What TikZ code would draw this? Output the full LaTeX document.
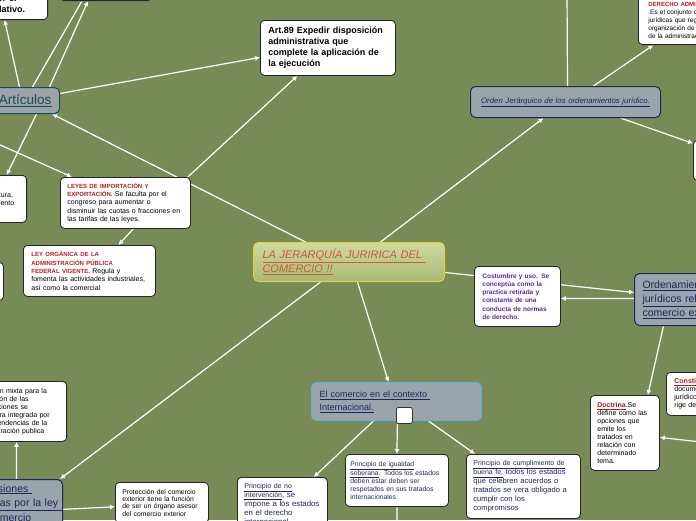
\documentclass[tikz,border=0pt]{standalone}
\usepackage{fontspec}
\setmainfont{Liberation Sans}
\usetikzlibrary{arrows.meta, shadows, backgrounds}

\definecolor{bgolive}{RGB}{120,139,86}
\definecolor{topicgray}{RGB}{155,164,170}
\definecolor{navytxt}{RGB}{28,40,96}
\definecolor{tealtxt}{RGB}{22,78,80}
\definecolor{redtxt}{RGB}{180,30,30}
\definecolor{purpletxt}{RGB}{100,40,150}
\definecolor{orangetxt}{RGB}{205,90,50}
\definecolor{yellowedge}{RGB}{230,212,40}
\definecolor{blueedge}{RGB}{90,180,220}

\newcommand{\setfs}[2]{\fontsize{#1}{#2}\selectfont}
\newcommand{\redcap}[1]{{\color{redtxt}\bfseries\fontsize{6}{8}\selectfont #1}}

\begin{document}
\begin{tikzpicture}[x=1pt, y=-1pt,
    card/.style={draw=black!85, fill=white, rounded corners=4pt, line width=0.8pt,
        align=left, anchor=north west, inner xsep=7pt, inner ysep=5pt,
        drop shadow={shadow xshift=0.8pt, shadow yshift=-1.2pt, opacity=0.45}},
    topic/.style={fill=topicgray, rounded corners=5pt, line width=1pt, align=left, anchor=north west,
        drop shadow={shadow xshift=0.8pt, shadow yshift=-1.2pt, opacity=0.35}},
    wire/.style={draw=white, line width=1.2pt},
    wirearr/.style={wire, -{Latex[length=5pt, width=5pt]}}]
    \useasboundingbox (0,0) rectangle (696,520);

    \node[card, anchor=south east, text width=62pt, font=\bfseries\setfs{9}{11}] (tlb) at (48,20) {es por el\\ legislativo.};
    \node[card, anchor=south, minimum width=92pt, minimum height=30pt] (topb) at (106,1) {};
    \node[topic, draw=tealtxt, anchor=north east, text width=64pt, inner xsep=8pt, align=right,
        minimum height=26pt, font=\setfs{13.5}{15}, text=tealtxt] (artic) at (60,87) {\underline{Artículos}};
    \node[card, text width=119pt, inner xsep=8pt, minimum height=55pt, font=\bfseries\setfs{9}{11}] (art89) at (260,20)
        {Art.89 Expedir disposición\\ administrativa que\\ complete la aplicación de\\ la ejecución};
    \node[card, anchor=north east, text width=49pt, minimum height=47pt, font=\setfs{7}{8}] (lb1) at (27,175) {la agricultura,\\ el crecimiento};
    \node[card, text width=116pt, minimum height=51pt, font=\setfs{7}{8.3}] (leyes) at (60,177)
        {\redcap{LEYES DE IMPORTACIÓN Y}\\ \redcap{EXPORTACIÓN.} Se faculta por el\\ congreso para aumentar o\\ disminuir las cuotas o fracciones en\\ las tarifas de las leyes.};
    \node[card, text width=116pt, inner xsep=8pt, minimum height=51pt, font=\setfs{7}{8.3}] (leyorg) at (23,245)
        {\redcap{LEY ORGÁNICA DE LA}\\ \redcap{ADMINISTRACIÓN PÚBLICA}\\ \redcap{FEDERAL VIGENTE.} Regula y\\ fomenta las actividades industriales,\\ así como la comercial};
    \node[card, minimum width=63pt, minimum height=38pt] (lb2) at (-60,262) {};

    \node[topic, draw=yellowedge, top color={rgb,255:red,208;green,218;blue,160}, bottom color={rgb,255:red,168;green,184;blue,118},
        text width=173pt, inner xsep=9pt, minimum height=39pt, font=\itshape\setfs{11}{14}, text=orangetxt] (central) at (253,242)
        {\underline{LA JERARQUÍA JURIRICA DEL }\\ \underline{COMERCIO !!}};

    \node[topic, draw=navytxt, text width=172pt, inner xsep=9pt, align=center, minimum height=31pt,
        font=\itshape\setfs{7.8}{9}, text=navytxt] (orden) at (470,86) {\underline{Orden Jerárquico de los ordenamientos jurídico.}};
    \node[card, anchor=south west, text width=102pt, inner xsep=10pt, inner ysep=6pt, font=\setfs{6.5}{8}] (dadmin) at (638,45)
        {\redcap{DERECHO ADMINISTRATIVO}\\ .Es el conjunto de normas\\ jurídicas que regulan la\\ organización de\\ de la administración};
    \node[card, minimum width=70pt, minimum height=40pt] (rbox) at (693,140) {};

    \node[card, text width=70pt, inner xsep=8pt, minimum height=60pt, font=\bfseries\setfs{6.5}{8.2}, text=purpletxt] (costumbre) at (474,266)
        {Costumbre y uso. Se\\ conceptúa como la\\ practica retirada y\\ constante de una\\ conducta de normas\\ de derecho.};
    \node[topic, draw=navytxt, text width=104pt, inner xsep=8pt, minimum height=52pt, font=\setfs{10.5}{14}, text=navytxt] (ordenam) at (634,273)
        {\underline{Ordenamientos}\\ \underline{jurídicos relativos al}\\ \underline{comercio exterior}};

    \node[topic, draw=blueedge, text width=154pt, inner xsep=8pt, minimum height=38pt, font=\setfs{9}{13}, text=navytxt] (comercio) at (311,382)
        {\underline{El comercio en el contexto }\\ \underline{Internacional.}};
    \node[draw=black!80, fill=white, rounded corners=2pt, line width=0.8pt, minimum size=16pt, inner sep=0pt, anchor=north west] (knob) at (396,407) {};

    \node[card, text width=76pt, inner ysep=6pt, font=\setfs{7.8}{9}, text=navytxt] (nointerv) at (237,477)
        {{\setfs{7}{9}\underline{Principio de no}}\\ {\setfs{7}{9}\underline{intervención}}, se\\ impone a los estados\\ en el derecho\\ internacional};
    \node[card, text width=93pt, inner xsep=5pt, minimum height=52pt, font=\setfs{6.8}{8}, text=navytxt] (igualdad) at (345,454)
        {\underline{Principio de igualdad}\\ \underline{soberana}. Todos los estados\\ deben estar deben ser\\ respetados en sus tratados\\ internacionales.};
    \node[card, text width=100pt, inner xsep=7pt, minimum height=64pt, font=\setfs{7.6}{9}, text=navytxt] (cumplim) at (466,454)
        {{\setfs{7}{9}\underline{Principio de cumplimiento de}}\\ {\setfs{7}{9}\underline{buena fe,}} todos los estados\\ que celebren acuerdos o\\ tratados se vera obligado a\\ cumplir con los\\ compromisos};

    \node[card, text width=55pt, minimum height=75pt, font=\setfs{7}{8}] (doctrina) at (590,395)
        {{\color{redtxt}\bfseries\underline{Doctrina}}.Se\\ define como las\\ opciones que\\ emite los\\ tratados en\\ relación con\\ determinado\\ tema.};
    \node[card, text width=84pt, inner xsep=8pt, minimum height=43pt, font=\setfs{7}{8}] (constit) at (666,372)
        {{\color{redtxt}\bfseries\underline{Constitución}}. Es el\\ documento\\ jurídico que\\ rige del país};

    \node[card, anchor=north east, text width=84pt, inner xsep=8pt, minimum height=60pt, font=\setfs{7}{8}] (comision) at (67,381)
        {Comisión mixta para la\\ promoción de las\\ exportaciones se\\ encuentra integrada por\\ las dependencias de la\\ administración publica};
    \node[topic, draw=navytxt, anchor=north east, text width=84pt, inner xsep=5pt, inner ysep=5pt, font=\setfs{10.5}{14.5}, text=navytxt] (comisiones) at (63,479)
        {\underline{Comisiones }\\ \underline{creadas por la ley }\\ \underline{de comercio}};
    \node[card, text width=79pt, inner ysep=7pt, font=\setfs{6.8}{7.2}] (proteccion) at (115,482)
        {Protección del comercio\\ exterior tiene la función\\ de ser un órgano asesor\\ del comercio exterior};

    \begin{scope}[on background layer]
        \fill[bgolive] (0,0) rectangle (696,520);
        \coordinate (offleft) at (-40,127);
        \coordinate (offtop) at (567,-10);
        \coordinate (offright) at (710,443);
        \coordinate (offbottom) at (397,530);

        \draw[wirearr] (artic.north) -- ([xshift=-5pt]tlb.south);
        \draw[wire] ([xshift=13pt]artic.north) -- ([xshift=-24pt]topb.south);
        \draw[wirearr] ([xshift=30pt]artic.north) -- ([xshift=-18pt]topb.south);
        \draw[wirearr] ([yshift=7pt]artic.east) -- ([yshift=-9.5pt]art89.west);
        \draw[wirearr] ([xshift=17pt]artic.south) -- ([xshift=11.5pt]lb1.north);
        \draw[wirearr] (offleft) -- ([xshift=12pt]leyes.north west);
        \draw[wirearr] ([xshift=-43.5pt]central.north) -- ([xshift=-8pt]artic.south east);
        \draw[wirearr] ([xshift=-3pt]leyes.north east) -- ([xshift=-30.5pt]art89.south);
        \draw[wirearr] ([xshift=8pt]leyes.south) -- ([xshift=29pt]leyorg.north);

        \draw[wirearr] ([xshift=-28.5pt]central.south) -- ([xshift=-3pt]comisiones.north east);
        \draw[wirearr] ([xshift=8.5pt]central.south) -- ([xshift=-8pt]comercio.north);
        \draw[wirearr] ([xshift=31.5pt]central.north) -- ([xshift=-22pt]orden.south);
        \draw[wirearr] ([yshift=-10.5pt]central.east) -- ([yshift=7pt]ordenam.west);
        \draw[wirearr] ([yshift=1pt]ordenam.west) -- ([yshift=-2pt]costumbre.east);

        \draw[wire] ([xshift=2pt]orden.north) -- (offtop);
        \draw[wirearr] ([xshift=28pt]orden.north) -- ([xshift=-46pt]dadmin.south);
        \draw[wirearr] ([xshift=55pt]orden.south) -- ([yshift=17pt]rbox.west);
        \draw[wirearr] ([xshift=-31pt]ordenam.south) -- ([xshift=-12pt]doctrina.north east);
        \draw[wirearr] (offright) -- ([yshift=-4.5pt]doctrina.east);

        \draw[wirearr] ([xshift=-23pt]comercio.south) -- ([xshift=-14pt]nointerv.north east);
        \draw[wirearr] ([xshift=-7pt]knob.south) -- (igualdad.north);
        \draw[wirearr] ([xshift=32pt]comercio.south) -- ([xshift=9pt]cumplim.north west);
        \draw[wire] (igualdad.south) -- (offbottom);

        \draw[wirearr] ([yshift=-5.5pt]comisiones.east) -- ([yshift=-4pt]proteccion.west);
        \draw[wirearr] ([xshift=1pt]comisiones.north) -- (comision.south);
    \end{scope}
\end{tikzpicture}
\end{document}
